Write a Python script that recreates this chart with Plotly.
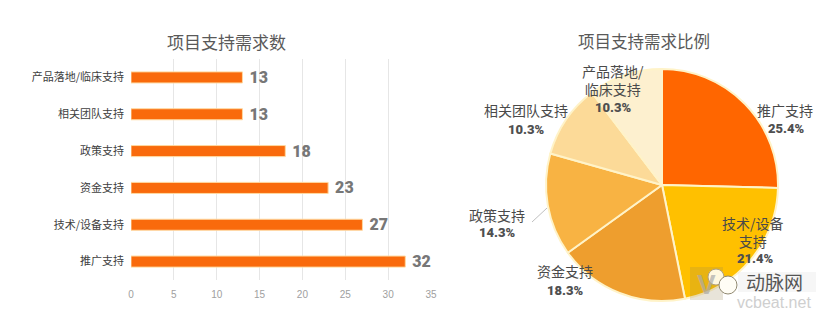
import plotly.graph_objects as go

categories = ["推广支持", "技术/设备支持", "资金支持", "政策支持", "相关团队支持", "产品落地/临床支持"]
counts = [32, 27, 23, 18, 13, 13]
ticks = [0, 5, 10, 15, 20, 25, 30, 35]
pie_names = ["推广支持", "技术/设备<br>支持", "资金支持", "政策支持", "相关团队支持", "产品落地/<br>临床支持"]
pie_colors = ["#FF6600", "#FFC000", "#EE9E2E", "#F8B343", "#FCDA98", "#FDF0CF"]
pie_pct = ["25.4%", "21.4%", "18.3%", "14.3%", "10.3%", "10.3%"]
W, H = 831, 318
CJK = "Noto Sans CJK SC"
BOLD = "Roboto, 'Liberation Sans', sans-serif"

fig = go.Figure()
fig.add_trace(go.Bar(
    y=categories, x=counts, orientation="h", width=0.3,
    marker=dict(color="#F96A0C", line=dict(color="#FFD9A0", width=1)),
    text=[f" {c}" for c in counts], textposition="outside", cliponaxis=False, constraintext="none",
    textfont=dict(family=BOLD, size=16, color="#777777", weight=900),
    hoverinfo="skip",
))
fig.add_trace(go.Pie(
    values=counts, labels=pie_names, sort=False, direction="clockwise", rotation=0,
    marker=dict(colors=pie_colors, line=dict(color="#FFF3C8", width=2)),
    textinfo="none", showlegend=False, hoverinfo="skip",
    domain=dict(x=[546 / W, 778 / W], y=[1 - 301 / H, 1 - 69 / H]),
))

def px(x, y):
    return dict(x=x / W, y=1 - y / H, xref="paper", yref="paper", xanchor="center", yanchor="middle", showarrow=False)

ann = []
ann.append(dict(text="项目支持需求数", font=dict(family=CJK, size=17, color="#595959"), **px(226, 42)))
ann.append(dict(text="项目支持需求比例", font=dict(family=CJK, size=16.5, color="#595959"), **px(644, 41)))

name_pos = [(785, 110), (753, 232), (565, 271), (497, 215), (526, 110), (613, 80)]
pct_pos = [(786, 128), (755, 258), (565, 290), (497, 233), (526, 129), (613, 107)]
for name, pct, a, b in zip(pie_names, pie_pct, name_pos, pct_pos):
    ann.append(dict(text=name, font=dict(family=CJK, size=14, color="#4A4A4A"), **px(*a)))
    ann.append(dict(text=pct, font=dict(family=BOLD, size=13, color="#4F4F4F", weight=900), **px(*b)))

# watermark
ann.append(dict(text="动脉网", font=dict(family=CJK, size=19, color="#555555"), **px(774, 281)))
ann.append(dict(text="vcbeat.net", font=dict(family="Liberation Sans", size=16, color="#CFCFCF"), **px(774, 302)))
ann.append(dict(text="V", font=dict(family="Liberation Sans", size=28, color="rgba(170,170,170,0.7)", weight="bold"), **px(706, 284)))

fig.update_layout(
    template="none",
    width=W, height=H, autosize=False, paper_bgcolor="white", plot_bgcolor="white",
    margin=dict(l=0, r=0, t=0, b=0), showlegend=False, annotations=ann,
    xaxis=dict(domain=[131 / W, 431 / W], range=[0, 35], tickvals=ticks, showgrid=True, gridcolor="#E6E6E6",
               gridwidth=1, zeroline=False, showline=False, ticks="", automargin=False, ticklabelstandoff=7,
               tickfont=dict(family="Liberation Sans", size=10, color="#A0A0A0"), anchor="y", fixedrange=True),
    yaxis=dict(domain=[1 - 280 / H, 1 - 59 / H], ticks="", showgrid=False, zeroline=False, showline=False,
               automargin=False, ticklabelstandoff=6, tickfont=dict(family=CJK, size=11, color="#404040"), anchor="x",
               categoryorder="array", categoryarray=categories, fixedrange=True),
    shapes=[
        dict(type="line", xref="paper", yref="paper", x0=532 / W, x1=547 / W, y0=1 - 222 / H, y1=1 - 208 / H,
             line=dict(color="#BFBFBF", width=1)),
        dict(type="rect", xref="paper", yref="paper", x0=738 / W, x1=816 / W, y0=1 - 292 / H, y1=1 - 272 / H,
             fillcolor="rgba(225,225,225,0.3)", line=dict(width=0), layer="above"),
        dict(type="rect", xref="paper", yref="paper", x0=690 / W, x1=723 / W, y0=1 - 300 / H, y1=1 - 267 / H,
             fillcolor="rgba(150,130,80,0.22)", line=dict(width=0), layer="above"),
        dict(type="circle", xref="paper", yref="paper", x0=708 / W, x1=724 / W, y0=1 - 285 / H, y1=1 - 269 / H,
             fillcolor="#FFF8E0", line=dict(color="#B0A080", width=1), layer="above"),
        dict(type="circle", xref="paper", yref="paper", x0=719 / W, x1=737 / W, y0=1 - 294 / H, y1=1 - 276 / H,
             fillcolor="#FFFDF5", line=dict(color="#908870", width=1), layer="above"),
    ],
)
fig.write_html("out.html", config=dict(displayModeBar=False), post_script="document.body.style.margin='0';")
